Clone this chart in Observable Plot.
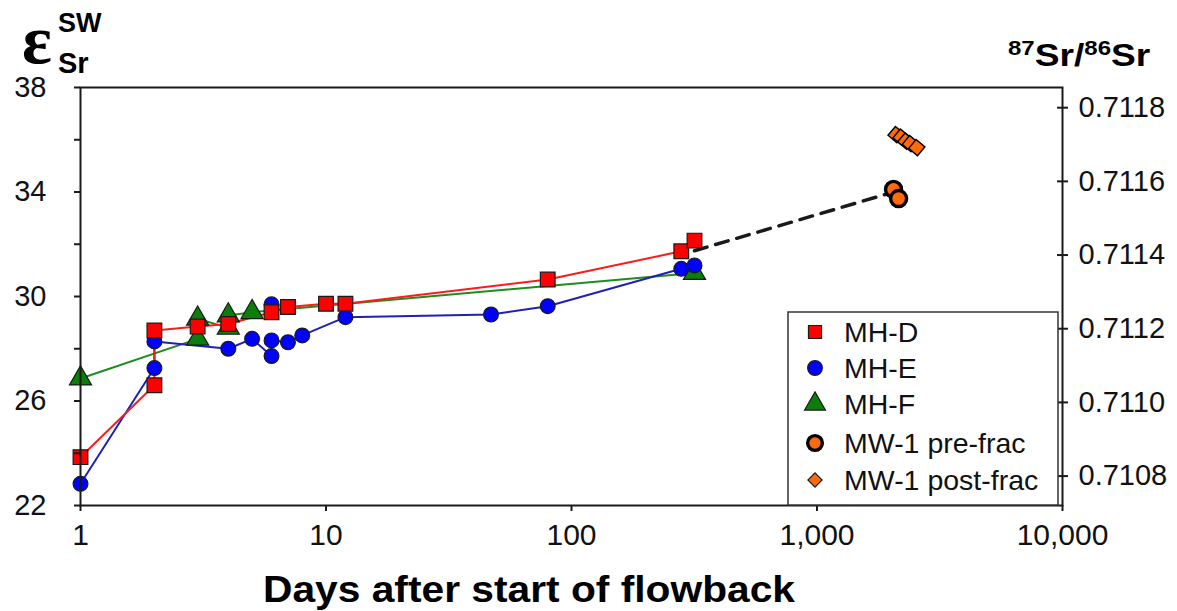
<!DOCTYPE html>
<html><head><meta charset="utf-8">
<script src="https://cdn.jsdelivr.net/npm/d3@7"></script>
<script src="https://cdn.jsdelivr.net/npm/@observablehq/plot@0.6"></script>
<style>
body{margin:0;background:#fff;font-family:Arial,"Liberation Sans",sans-serif}
#chart svg{display:block}
</style>
</head><body><div id="chart"></div>
<script>
// ---- data (days after start of flowback, epsilon Sr SW) ----
const daysD = [1, 2, 2, 3, 4, 6, 7, 10, 12, 80, 280, 317];
const epsD  = [23.85, 26.6, 28.7, 28.85, 28.95, 29.4, 29.6, 29.72, 29.72, 30.65, 31.73, 32.14];
const daysE = [1, 2, 2, 4, 5, 6, 6, 7, 8, 12, 47, 80, 280, 317];
const epsE  = [22.83, 27.26, 28.28, 28.0, 28.38, 27.72, 28.32, 28.25, 28.51, 29.21, 29.31, 29.63, 31.06, 31.19];
const daysEunlinked = [6];
const epsEunlinked  = [29.7];
const daysF = [1, 3, 3, 4, 4, 5, 317];
const epsF  = [26.86, 28.38, 29.15, 28.8, 29.27, 29.4, 30.9];
const daysPre = [2050, 2150];
const epsPre  = [34.1, 33.75];
const daysPost = [2100, 2200, 2300, 2400, 2550];
const epsPost  = [36.2, 36.1, 35.95, 35.85, 35.7];
const daysTrend = [317, 2050];
const epsTrend  = [31.75, 34.0];
const seriesNames = ["MH-D", "MH-E", "MH-F", "MW-1 pre-frac", "MW-1 post-frac"];
const xTicks = [1, 10, 100, 1000, 10000];
const yLabelTicks = [22, 26, 30, 34, 38];
const yMinorTicks = [24, 28, 32, 36];
const ratioTicks = [0.7108, 0.7110, 0.7112, 0.7114, 0.7116, 0.7118];
const R_SW = 0.70916;

const toEps = r => (r / R_SW - 1) * 1e4;
const zip = (xs, ys) => xs.map((x, i) => ({x, y: ys[i]}));
const D = zip(daysD, epsD), E = zip(daysE, epsE), E2 = zip(daysEunlinked, epsEunlinked);
const F = zip(daysF, epsF), PRE = zip(daysPre, epsPre), POST = zip(daysPost, epsPost);
const TREND = zip(daysTrend, epsTrend);

const W = 1177, H = 611, mL = 80, mR = 115, mT = 87, mB = 106;
const ink = "#1a1a1a";
const cRed = "#ff0000", cBlue = "#0000ff", cGreen = "#0a7d0a", cOrange = "#ff6a0a";

const plot = Plot.plot({
  width: W, height: H,
  marginLeft: mL, marginRight: mR, marginTop: mT, marginBottom: mB,
  style: {fontFamily: "Arial, 'Liberation Sans', sans-serif", fontSize: "28px", color: "#111", background: "#fff"},
  x: {type: "log", domain: [1, 10000], axis: null},
  y: {domain: [22, 38], axis: null},
  marks: [
    Plot.line(TREND, {x: "x", y: "y", stroke: ink, strokeWidth: 3.5, strokeDasharray: "13,9"}),
    Plot.line(F, {x: "x", y: "y", stroke: "#1e8c1e", strokeWidth: 2}),
    Plot.line(E, {x: "x", y: "y", stroke: "#2020b4", strokeWidth: 2}),
    Plot.line(D, {x: "x", y: "y", stroke: "#ff1a1a", strokeWidth: 2}),
    Plot.dot(F, {x: "x", y: "y", symbol: "triangle", r: 8.2, fill: cGreen, stroke: ink, strokeWidth: 1.2}),
    Plot.dot(E2, {x: "x", y: "y", symbol: "circle", r: 7.4, fill: cBlue, stroke: ink, strokeWidth: 1.2}),
    Plot.dot(E, {x: "x", y: "y", symbol: "circle", r: 7.4, fill: cBlue, stroke: ink, strokeWidth: 1.2}),
    Plot.dot(D, {x: "x", y: "y", symbol: "square", r: 8.3, fill: cRed, stroke: ink, strokeWidth: 1.2}),
    Plot.dot(PRE, {x: "x", y: "y", symbol: "circle", r: 8, fill: cOrange, stroke: "#000", strokeWidth: 3.4}),
    Plot.dot(POST, {x: "x", y: "y", symbol: "square", r: 6.5, rotate: 40, fill: cOrange, stroke: "#000", strokeWidth: 1.4}),
    Plot.frame({stroke: ink, strokeWidth: 2}),
    Plot.axisX({ticks: xTicks, tickFormat: d3.format(","), label: null, tickSize: 6, tickPadding: 12, fontSize: 30, stroke: ink, strokeWidth: 2}),
    Plot.axisY({ticks: yMinorTicks, text: null, label: null, tickSize: 6, stroke: ink, strokeWidth: 2}),
    Plot.axisY({ticks: yLabelTicks, label: null, tickSize: 6, tickPadding: 28, fontSize: 29, stroke: ink, strokeWidth: 2}),
    Plot.axisY({anchor: "right", label: null, ticks: ratioTicks.map(toEps), tickFormat: e => (R_SW * (1 + e / 1e4)).toFixed(4), tickSize: 5, tickPadding: 11, fontSize: 29, stroke: ink, strokeWidth: 2}),
    Plot.ruleY(ratioTicks.map(toEps), {y: d => d, insetLeft: W - mL - mR - 5, stroke: ink, strokeWidth: 2})
  ]
});
document.getElementById("chart").appendChild(plot);

// ---- titles ----
const svg = d3.select(plot);
const sans = "Arial, 'Liberation Sans', sans-serif";
const eps = svg.append("g").attr("font-weight", "bold").attr("fill", "#000").attr("text-anchor", "start");
eps.append("text").attr("x", 22).attr("y", 63).attr("font-family", "'Liberation Serif', 'DejaVu Serif', serif").attr("font-size", 70).text("ε");
eps.append("text").attr("x", 58).attr("y", 32).attr("font-family", sans).attr("font-size", 27).text("SW");
eps.append("text").attr("x", 58).attr("y", 73).attr("font-family", sans).attr("font-size", 29).text("Sr");

const rtg = svg.append("g").attr("transform", "translate(1008,66) scale(1.2,1)");
const rt = rtg.append("text").attr("x", 0).attr("y", 0).attr("text-anchor", "start").attr("font-family", sans).attr("font-weight", "bold").attr("fill", "#000");
rt.append("tspan").attr("font-size", 20).attr("dy", -11).text("87");
rt.append("tspan").attr("font-size", 31).attr("dy", 11).text("Sr/");
rt.append("tspan").attr("font-size", 20).attr("dy", -11).text("86");
rt.append("tspan").attr("font-size", 31).attr("dy", 11).text("Sr");

svg.append("text").attr("x", 263).attr("y", 602).attr("text-anchor", "start").attr("font-family", sans)
  .attr("font-weight", "bold").attr("font-size", 37).attr("fill", "#000")
  .attr("textLength", 532).attr("lengthAdjust", "spacingAndGlyphs").text("Days after start of flowback");

// ---- legend ----
const lg = svg.append("g").attr("text-anchor", "start");
lg.append("rect").attr("x", 788).attr("y", 312).attr("width", 270).attr("height", 193)
  .attr("fill", "#fff").attr("stroke", "#333").attr("stroke-width", 1.5);
const legendRows = [
  {sym: d3.symbolSquare, size: 170, fill: cRed, stroke: ink, sw: 1.2, rot: 0},
  {sym: d3.symbolCircle, size: 170, fill: cBlue, stroke: ink, sw: 1.2, rot: 0},
  {sym: d3.symbolTriangle, size: 190, fill: cGreen, stroke: ink, sw: 1.2, rot: 0},
  {sym: d3.symbolCircle, size: 170, fill: cOrange, stroke: "#000", sw: 3.4, rot: 0},
  {sym: d3.symbolSquare, size: 100, fill: cOrange, stroke: ink, sw: 1.2, rot: 45}
];
const rowY = [332, 368, 404, 443, 480];
legendRows.forEach((r, i) => {
  lg.append("path").attr("d", d3.symbol(r.sym, r.size)())
    .attr("transform", `translate(815,${rowY[i]}) rotate(${r.rot})`)
    .attr("fill", r.fill).attr("stroke", r.stroke).attr("stroke-width", r.sw);
  lg.append("text").attr("x", 844).attr("y", rowY[i]).attr("dy", "0.36em")
    .attr("font-family", sans).attr("font-size", 28.5).attr("fill", "#111").text(seriesNames[i]);
});
</script>
</body></html>
